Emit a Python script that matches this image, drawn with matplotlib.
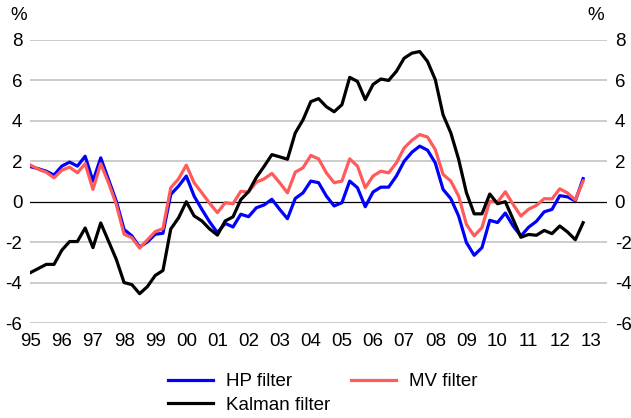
import numpy as np
import matplotlib
matplotlib.use("Agg")
import matplotlib.pyplot as plt

plt.rcParams['font.family'] = ['Liberation Sans', 'DejaVu Sans']

# Quarterly output gap estimates, 1995Q1 - 2012Q4 (%)
hp_filter = [1.73, 1.63, 1.51, 1.32, 1.76, 1.96, 1.76, 2.25, 1.02, 2.17,
             1.10, 0.03, -1.37, -1.69, -2.24, -1.99, -1.61, -1.56, 0.36, 0.77,
             1.27, 0.28, -0.38, -1.00, -1.53, -1.07, -1.25, -0.62, -0.74, -0.30,
             -0.16, 0.12, -0.38, -0.84, 0.16, 0.44, 1.02, 0.94, 0.28, -0.21,
             -0.05, 1.02, 0.69, -0.25, 0.48, 0.72, 0.72, 1.27, 2.00, 2.45,
             2.75, 2.55, 1.92, 0.61, 0.15, -0.71, -2.02, -2.65, -2.27, -0.92,
             -1.03, -0.56, -1.20, -1.70, -1.26, -0.97, -0.50, -0.38, 0.30, 0.24,
             0.04, 1.14]

mv_filter = [1.81, 1.60, 1.46, 1.18, 1.56, 1.71, 1.43, 1.88, 0.61, 1.88,
             0.94, -0.13, -1.61, -1.78, -2.29, -1.89, -1.48, -1.33, 0.69, 1.13,
             1.81, 0.94, 0.44, -0.08, -0.54, -0.05, -0.10, 0.51, 0.48, 0.97,
             1.13, 1.40, 0.94, 0.44, 1.46, 1.68, 2.29, 2.12, 1.43, 0.94,
             1.02, 2.12, 1.76, 0.69, 1.27, 1.51, 1.43, 1.92, 2.66, 3.04,
             3.32, 3.20, 2.58, 1.35, 1.02, 0.28, -1.12, -1.69, -1.28, 0.03,
             -0.02, 0.49, -0.13, -0.71, -0.37, -0.18, 0.15, 0.14, 0.64, 0.43,
             0.09, 1.02]

kalman_filter = [-3.50, -3.30, -3.10, -3.10, -2.40, -1.97, -1.97, -1.30, -2.27, -1.05,
                 -1.95, -2.85, -4.00, -4.10, -4.55, -4.20, -3.65, -3.40, -1.35, -0.80,
                 0.00, -0.70, -0.95, -1.35, -1.65, -0.95, -0.75, 0.10, 0.50, 1.20,
                 1.75, 2.33, 2.22, 2.10, 3.40, 4.05, 4.95, 5.10, 4.70, 4.45,
                 4.80, 6.15, 5.95, 5.05, 5.80, 6.07, 6.00, 6.45, 7.10, 7.35,
                 7.43, 6.94, 6.04, 4.30, 3.40, 2.10, 0.45, -0.60, -0.60, 0.38,
                 -0.10, 0.00, -0.87, -1.76, -1.62, -1.66, -1.42, -1.58, -1.20, -1.50,
                 -1.88, -1.04]

year_labels = ['95', '96', '97', '98', '99', '00', '01', '02', '03', '04',
               '05', '06', '07', '08', '09', '10', '11', '12', '13']
y_ticks = [-6, -4, -2, 0, 2, 4, 6, 8]

fs = 13.5
fig = plt.figure(figsize=(6.31, 4.18), dpi=100)
ax = fig.add_axes([30 / 631, 1 - 323 / 418, 577 / 631, 283 / 418])

x = np.arange(len(hp_filter))

# horizontal gridlines, zero line in black
for yv in y_ticks:
    if yv == 0:
        ax.axhline(0, color='black', lw=0.9, zorder=1)
    else:
        ax.axhline(yv, color='#c8c8c8', lw=1.3, zorder=0)

ax.plot(x, hp_filter, color='#0000ff', lw=2.3, label='HP filter', zorder=2)
ax.plot(x, mv_filter, color='#ff5b5b', lw=2.3, label='MV filter', zorder=3)
ax.plot(x, kalman_filter, color='black', lw=2.3, label='Kalman filter', zorder=4)

ax.set_xlim(-0.09, 74.07)
ax.set_ylim(-6, 8)
ax.set_xticks(np.arange(0, 4 * len(year_labels), 4))
ax.set_xticklabels(year_labels, fontsize=fs)
ax.set_yticks(y_ticks)
ax.set_yticklabels([str(v) for v in y_ticks], fontsize=fs)
ax.tick_params(axis='x', length=0, pad=7)
ax.tick_params(axis='y', length=0, pad=5.5, labelleft=True, labelright=True)
for s in ax.spines.values():
    s.set_visible(False)

fig.text(10 / 631, 1 - 15 / 418, '%', fontsize=fs, ha='left', va='center')
fig.text(604 / 631, 1 - 15 / 418, '%', fontsize=fs, ha='right', va='center')

h, l = ax.get_legend_handles_labels()
order = [0, 2, 1]
fig.legend([h[i] for i in order], [l[i] for i in order], ncol=2,
           loc='upper left', bbox_to_anchor=(168 / 631, 1 - 373 / 418),
           frameon=False, fontsize=fs, handlelength=2.4, handletextpad=0.7,
           columnspacing=1.1, labelspacing=0.35, borderpad=0, borderaxespad=0)

fig.savefig('out.png', dpi=100)
